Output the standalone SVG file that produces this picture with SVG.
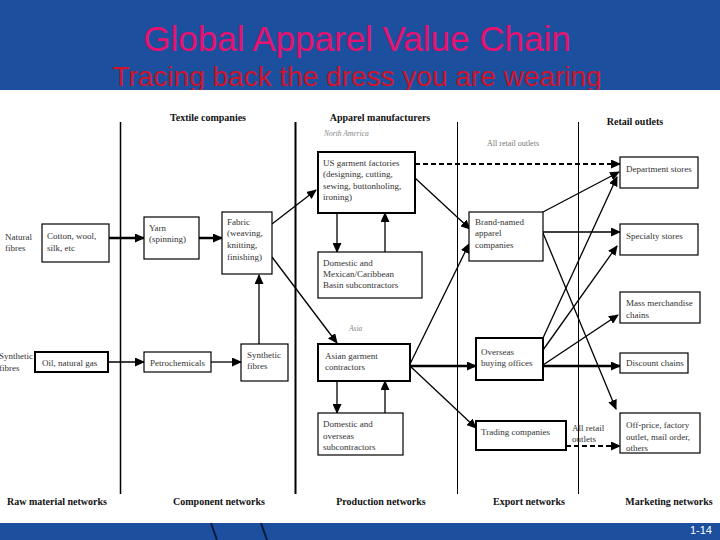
<svg xmlns="http://www.w3.org/2000/svg" width="720" height="540" viewBox="0 0 720 540">
<style>
.t{font-family:"Liberation Serif","Times New Roman",serif;font-size:9px;fill:#333}
.h{font-family:"Liberation Serif","Times New Roman",serif;font-size:10px;font-weight:bold;fill:#111}
.s{font-family:"Liberation Serif","Times New Roman",serif;font-size:7.5px;font-style:italic;fill:#888}
.g{font-family:"Liberation Serif","Times New Roman",serif;font-size:8px;fill:#777}
.b{fill:#fff;stroke:#000;stroke-width:1.2}
.bt{fill:#fff;stroke:#000;stroke-width:2}
.d{stroke:#000;fill:none}
.c{stroke:#000;fill:none;stroke-width:1.3;marker-end:url(#ah)}
.ck{stroke:#000;fill:none;stroke-width:2.5;marker-end:url(#ah)}
.cd{stroke:#000;fill:none;stroke-width:1.8;stroke-dasharray:5 3;marker-end:url(#ah)}
</style>
<defs>
<marker id="ah" markerUnits="userSpaceOnUse" markerWidth="10" markerHeight="9" refX="9" refY="4.5" orient="auto">
<path d="M0,0 L10,4.5 L0,9 Z" fill="#000"/>
</marker>
</defs>
<rect x="0" y="0" width="720" height="540" fill="#1c4f9d"/>
<text x="357" y="51" text-anchor="middle" font-family="Liberation Sans,Arial,sans-serif" font-size="35" fill="#e5126f">Global Apparel Value Chain</text>
<text x="357" y="86" text-anchor="middle" font-family="Liberation Sans,Arial,sans-serif" font-size="28" fill="#d0142c">Tracing back the dress you are wearing</text>
<rect x="0" y="90" width="720" height="433" fill="#fff"/>
<text x="712" y="534" text-anchor="end" font-family="Liberation Sans,Arial,sans-serif" font-size="11" fill="#fff">1-14</text>
<g id="slashes" stroke="#0b1a3e" stroke-width="2">
<line x1="211" y1="523" x2="217" y2="540"/>
<line x1="261" y1="523" x2="267" y2="540"/>
</g>
<g id="dividers">
<line class="d" x1="120.5" y1="122" x2="120.5" y2="494" stroke-width="1.5"/>
<line class="d" x1="295.5" y1="122" x2="295.5" y2="494" stroke-width="2"/>
<line class="d" x1="457.5" y1="122" x2="457.5" y2="494" stroke-width="1"/>
<line class="d" x1="578.5" y1="122" x2="578.5" y2="494" stroke-width="1"/>
</g>
<g id="headers">
<text class="h" x="208" y="121" text-anchor="middle">Textile companies</text>
<text class="h" x="380" y="121" text-anchor="middle">Apparel manufacturers</text>
<text class="h" x="635" y="125" text-anchor="middle">Retail outlets</text>
<text class="s" x="324" y="136">North America</text>
<text class="g" x="487" y="146">All retail outlets</text>
<text class="s" x="349" y="331">Asia</text>
<text class="h" x="57" y="505" text-anchor="middle">Raw material networks</text>
<text class="h" x="219" y="505" text-anchor="middle">Component networks</text>
<text class="h" x="381" y="505" text-anchor="middle">Production networks</text>
<text class="h" x="529" y="505" text-anchor="middle">Export networks</text>
<text class="h" x="669" y="505" text-anchor="middle">Marketing networks</text>
<text class="t" x="5" y="240">Natural</text>
<text class="t" x="5" y="251">fibres</text>
<text class="t" x="-1" y="359">Synthetic</text>
<text class="t" x="-1" y="371">fibres</text>
<text class="t" x="572" y="431">All retail</text>
<text class="t" x="572" y="442">outlets</text>
</g>
<g id="connectors">
<line class="ck" x1="109" y1="238" x2="144" y2="238"/>
<line class="ck" x1="199" y1="238" x2="222" y2="238"/>
<line class="c" x1="108" y1="362" x2="144" y2="362"/>
<line class="c" x1="211" y1="362" x2="241" y2="362"/>
<line class="c" x1="259" y1="344" x2="259" y2="275"/>
<line class="c" x1="272" y1="224" x2="316" y2="190"/>
<line class="c" x1="272" y1="257" x2="337" y2="343"/>
<line class="c" x1="337" y1="213" x2="337" y2="252"/>
<line class="c" x1="385" y1="252" x2="385" y2="213"/>
<line class="c" x1="337" y1="381" x2="337" y2="413"/>
<line class="c" x1="385" y1="413" x2="385" y2="381"/>
<line class="cd" x1="415" y1="164" x2="620" y2="164"/>
<line class="c" x1="415" y1="178" x2="470" y2="229"/>
<line class="c" x1="410" y1="364" x2="469" y2="244"/>
<line class="ck" x1="410" y1="366" x2="476" y2="366"/>
<line class="c" x1="410" y1="366" x2="476" y2="428"/>
<line class="c" x1="543" y1="212" x2="619" y2="172"/>
<line class="c" x1="543" y1="232" x2="620" y2="232"/>
<line class="c" x1="543" y1="233" x2="616" y2="409"/>
<line class="c" x1="543" y1="338" x2="617" y2="177"/>
<line class="c" x1="543" y1="350" x2="617" y2="246"/>
<line class="c" x1="543" y1="365" x2="618" y2="315"/>
<line class="ck" x1="543" y1="366" x2="620" y2="366"/>
<line class="cd" x1="566" y1="446" x2="620" y2="446"/>
</g>
<g id="cotton"><rect class="b" x="42" y="224" width="67" height="38"/><text class="t" x="47" y="239">Cotton, wool,</text><text class="t" x="47" y="251">silk, etc</text></g>
<g id="yarn"><rect class="b" x="144" y="217" width="55" height="42"/><text class="t" x="149" y="231">Yarn</text><text class="t" x="149" y="242">(spinning)</text></g>
<g id="fabric"><rect class="b" x="222" y="212" width="50" height="62"/><text class="t" x="227" y="225">Fabric</text><text class="t" x="227" y="236">(weaving,</text><text class="t" x="227" y="248">knitting,</text><text class="t" x="227" y="260">finishing)</text></g>
<g id="oil"><rect class="bt" x="35" y="352" width="73" height="20"/><text class="t" x="42" y="366">Oil, natural gas</text></g>
<g id="petro"><rect class="b" x="144" y="352" width="67" height="20"/><text class="t" x="150" y="366">Petrochemicals</text></g>
<g id="synthetic"><rect class="b" x="241" y="344" width="47" height="37"/><text class="t" x="247" y="358">Synthetic</text><text class="t" x="247" y="369">fibres</text></g>
<g id="usgarment"><rect class="bt" x="318" y="152" width="97" height="61"/><text class="t" x="323" y="166">US garment factories</text><text class="t" x="323" y="177">(designing, cutting,</text><text class="t" x="323" y="189">sewing, buttonholing,</text><text class="t" x="323" y="200">ironing)</text></g>
<g id="mexican"><rect class="b" x="318" y="252" width="104" height="46"/><text class="t" x="323" y="266">Domestic and</text><text class="t" x="323" y="277">Mexican/Caribbean</text><text class="t" x="323" y="288">Basin subcontractors</text></g>
<g id="asian"><rect class="bt" x="318" y="344" width="92" height="37"/><text class="t" x="325" y="359">Asian garment</text><text class="t" x="325" y="370">contractors</text></g>
<g id="overseassub"><rect class="b" x="318" y="413" width="85" height="42"/><text class="t" x="323" y="427">Domestic and</text><text class="t" x="323" y="439">overseas</text><text class="t" x="323" y="450">subcontractors</text></g>
<g id="brand"><rect class="b" x="469" y="212" width="74" height="49"/><text class="t" x="475" y="225">Brand-named</text><text class="t" x="475" y="236">apparel</text><text class="t" x="475" y="248">companies</text></g>
<g id="buying"><rect class="bt" x="476" y="338" width="67" height="42"/><text class="t" x="481" y="355">Overseas</text><text class="t" x="481" y="366">buying offices</text></g>
<g id="trading"><rect class="bt" x="476" y="421" width="90" height="29"/><text class="t" x="481" y="435">Trading companies</text></g>
<g id="dept"><rect class="b" x="620" y="157" width="78" height="31"/><text class="t" x="626" y="172">Department stores</text></g>
<g id="specialty"><rect class="b" x="620" y="224" width="78" height="31"/><text class="t" x="626" y="239">Specialty stores</text></g>
<g id="mass"><rect class="b" x="620" y="292" width="80" height="31"/><text class="t" x="626" y="306">Mass merchandise</text><text class="t" x="626" y="318">chains</text></g>
<g id="discount"><rect class="b" x="620" y="353" width="68" height="20"/><text class="t" x="626" y="366">Discount chains</text></g>
<g id="offprice"><rect class="b" x="620" y="413" width="80" height="40"/><text class="t" x="626" y="428">Off-price, factory</text><text class="t" x="626" y="440">outlet, mail order,</text><text class="t" x="626" y="451">others</text></g>
</svg>
